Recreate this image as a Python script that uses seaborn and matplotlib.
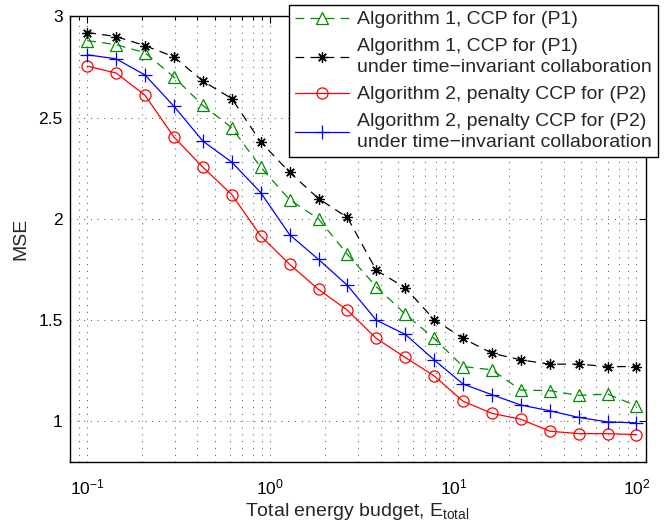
import numpy as np
import pandas as pd
import matplotlib
matplotlib.use("Agg")
import matplotlib.pyplot as plt
import seaborn as sns
from matplotlib.ticker import LogLocator, FixedLocator, FixedFormatter, NullFormatter

# Total energy budget values (log-spaced sweep)
energy = [0.1, 0.1438, 0.2069, 0.2976, 0.4281, 0.6158, 0.8859, 1.274, 1.833, 2.637,
          3.793, 5.456, 7.848, 11.29, 16.24, 23.36, 33.60, 48.33, 69.52, 100.0]

mse_alg1 = [2.88, 2.86, 2.82, 2.70, 2.56, 2.45, 2.255, 2.095, 2.00, 1.825,
            1.665, 1.53, 1.41, 1.271, 1.255, 1.155, 1.152, 1.129, 1.135, 1.077]
mse_alg1_ti = [2.92, 2.90, 2.855, 2.80, 2.68, 2.594, 2.38, 2.23, 2.10, 2.007,
               1.746, 1.66, 1.503, 1.41, 1.337, 1.304, 1.283, 1.283, 1.271, 1.271]
mse_alg2 = [2.754, 2.72, 2.61, 2.404, 2.255, 2.12, 1.916, 1.776, 1.652, 1.549,
            1.41, 1.316, 1.225, 1.10, 1.04, 1.011, 0.952, 0.94, 0.94, 0.935]
mse_alg2_ti = [2.81, 2.79, 2.71, 2.556, 2.384, 2.28, 2.13, 1.922, 1.80, 1.672,
               1.50, 1.43, 1.304, 1.185, 1.132, 1.081, 1.053, 1.02, 0.998, 0.993]

labels = ["Algorithm 1, CCP for (P1)",
          "Algorithm 1, CCP for (P1)\nunder time\u2212invariant collaboration",
          "Algorithm 2, penalty CCP for (P2)",
          "Algorithm 2, penalty CCP for (P2)\nunder time\u2212invariant collaboration"]

y_ticks = [1, 1.5, 2, 2.5, 3]
y_tick_labels = ["1", "1.5", "2", "2.5", "3"]

sns.set_style("white")
plt.rcParams["font.family"] = ["Liberation Sans", "DejaVu Sans"]
plt.rcParams["mathtext.fontset"] = "custom"
plt.rcParams["mathtext.rm"] = "Liberation Sans"
plt.rcParams["mathtext.it"] = "Liberation Sans:italic"

W, H = 667, 520
fig = plt.figure(figsize=(W / 100, H / 100), dpi=100)
ax = fig.add_axes([69.5 / W, (H - 462) / H, 576 / W, 445.7 / H])

series = [mse_alg1, mse_alg1_ti, mse_alg2, mse_alg2_ti]
styles = [
    dict(color=(0.0, 0.55, 0.0), marker="^", ms=9, dashes=(7, 5)),
    dict(color="black", marker=(8, 2, 0), ms=7.5, dashes=(7, 5)),
    dict(color=(1.0, 0.0, 0.0), marker="o", ms=8, dashes=None),
    dict(color=(0.0, 0.0, 1.0), marker="+", ms=10, dashes=None),
]

handles = []
for vals, lab, st in zip(series, labels, styles):
    df = pd.DataFrame({"energy": energy, "mse": vals})
    sns.lineplot(data=df, x="energy", y="mse", ax=ax, color=st["color"],
                 marker=st["marker"], markersize=st["ms"], markerfacecolor="none",
                 markeredgecolor=st["color"], markeredgewidth=0.9, linewidth=0.9,
                 label=lab, legend=False)
    line = ax.lines[-1]
    if st["dashes"] is not None:
        line.set_dashes(st["dashes"])
    handles.append(line)

ax.set_xscale("log")
ax.set_xlim(0.08, 112)
ax.set_ylim(0.8, 3)

ax.yaxis.set_major_locator(FixedLocator(y_ticks))
ax.yaxis.set_major_formatter(FixedFormatter(y_tick_labels))
ax.xaxis.set_major_locator(LogLocator(base=10, numticks=10))
ax.xaxis.set_minor_locator(LogLocator(base=10, subs=np.arange(2, 10), numticks=20))
ax.xaxis.set_minor_formatter(NullFormatter())

grid_style = dict(color="0.3", linestyle=(0, (1, 6)), linewidth=0.7)
ax.grid(True, which="major", axis="both", **grid_style)
ax.grid(True, which="minor", axis="x", **grid_style)

ax.tick_params(axis="both", which="both", direction="in", top=True, right=True,
               labelsize=12.5, colors="black")
ax.tick_params(axis="x", which="both", pad=11)
ax.tick_params(axis="y", which="both", pad=5)
ax.tick_params(axis="both", which="major", length=5, width=0.8)
ax.tick_params(axis="x", which="minor", length=3, width=0.8)

for sp in ax.spines.values():
    sp.set_color("black")
    sp.set_linewidth(1.0)

ax.set_xlabel(r"Total energy budget, E$_{\mathrm{total}}$", fontsize=14, labelpad=3)
ax.set_ylabel("MSE", fontsize=14, labelpad=6)

leg = ax.legend(handles=handles, labels=labels, loc="upper right",
                bbox_to_anchor=(658 / W, 1 - 5 / H), bbox_transform=fig.transFigure,
                fontsize=14, handlelength=2.75, frameon=True, fancybox=False,
                borderaxespad=0, borderpad=0.3, labelspacing=0.5, handletextpad=0.45)
for t in leg.get_texts():
    t.set_linespacing(1.3)
leg.get_frame().set_edgecolor("black")
leg.get_frame().set_linewidth(1.0)
leg.get_frame().set_alpha(1)

fig.savefig("out.png", dpi=100, facecolor="white")
